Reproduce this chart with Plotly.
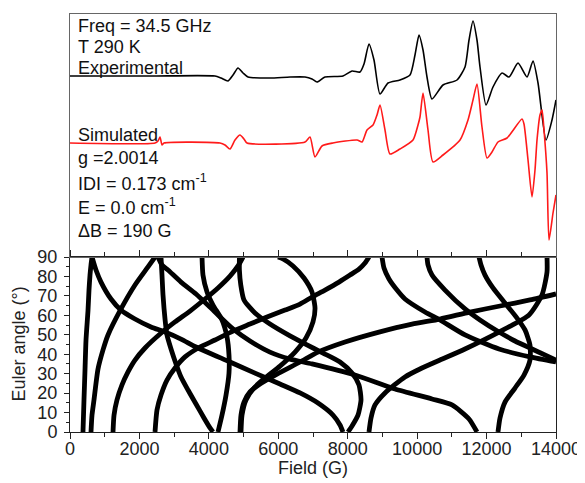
import plotly.graph_objects as go

# ---------------- Spectra (top panel) ----------------
exp_field = [0, 2305, 4177, 4350, 4552, 4696, 4840, 4984, 5128, 5761, 6338, 6770, 6971, 7115, 7346,
             7864, 8124, 8354, 8469, 8613, 8757, 8930, 9161, 9506, 9794, 9938, 10054, 10169, 10284,
             10428, 10745, 11148, 11379, 11494, 11609, 11724, 11811, 11984, 12185, 12445, 12646,
             12906, 13165, 13338, 13482, 13712, 13885, 14000]
exp_int = [181, 181, 181, 179, 176, 182, 189, 184, 180, 179, 180, 180, 178, 175, 180,
           181, 186, 185, 193, 213, 197, 163, 174, 177, 182, 202, 222, 207, 180,
           158, 172, 177, 190, 217, 236, 217, 190, 152, 170, 184, 180,
           194, 180, 196, 174, 117, 137, 157]

sim_field = [0, 2449, 2535, 2593, 2650, 2708, 4321, 4465, 4609, 4753, 4897, 5012, 5099, 6770, 6914,
             7058, 7259, 7576, 8268, 8412, 8556, 8729, 8844, 8930, 9074, 9218, 9506, 9881, 10025,
             10082, 10169, 10313, 10457, 10745, 11235, 11465, 11609, 11724, 11868, 12013, 12157,
             12329, 12589, 13021, 13078, 13194, 13309, 13395, 13453, 13539, 13597, 13654, 13741,
             13798, 13914, 14000]
sim_int = [114, 114, 116, 120, 112, 114, 114, 112, 108, 117, 122, 118, 114, 115, 120,
           100, 111, 114, 117, 115, 127, 132, 142, 152, 127, 103, 108, 117, 132,
           140, 164, 127, 95, 102, 117, 137, 157, 173, 130, 99, 105,
           115, 119, 138, 133, 97, 60, 87, 117, 142, 147, 127, 84,
           17, 44, 62]

# ---------------- Euler angle curves (bottom panel) ----------------
c1_field = [374, 403, 432, 461, 519, 547, 576, 605, 634]
c1_angle = [0, 16.5, 31.9, 47.3, 62.7, 73.0, 80.7, 85.9, 90]

c2_field = [605, 634, 691, 807, 951, 1095, 1469, 1872, 2247, 2449]
c2_angle = [0, 8.7, 16.5, 32.4, 42.2, 49.9, 63.3, 75.6, 84.9, 90]

c3_field = [1239, 1268, 1354, 1498, 1671, 1872, 2161, 2593, 3025, 3457, 3889, 4263, 4609, 4840, 4984]
c3_angle = [0, 8.7, 16.5, 24.2, 30.9, 37.0, 43.2, 50.4, 56.6, 62.2, 68.4, 74.1, 80.2, 85.4, 90]

c4_field = [634, 749, 893, 1181, 1469, 1872, 2333, 2737, 3198, 3630, 4609, 5329, 6049, 6626, 7144, 7576, 7778, 7864]
c4_angle = [90, 83.3, 77.1, 68.4, 62.7, 58.1, 54.0, 51.4, 47.8, 43.7, 36.0, 30.3, 24.7, 20.1, 14.9, 8.7, 3.6, 0]

c5_field = [2449, 2506, 2621, 2794, 3025, 3313, 3745, 4177, 4696, 5185, 5675, 6194, 6626, 6971,
            7346, 7749, 8066, 8325, 8498, 8613]
c5_angle = [0, 11.3, 19.0, 26.7, 32.9, 38.6, 43.7, 47.3, 51.9, 55.5, 59.1, 62.7, 65.8, 69.4,
            73.0, 77.1, 80.7, 83.8, 86.9, 90]

c6_field = [2535, 2650, 2823, 3198, 3630, 4177, 4696, 5185, 5761, 6338, 6971, 8210, 9362, 10428, 11004, 11494, 11724]
c6_angle = [90, 85.9, 83.3, 77.1, 71.0, 61.7, 53.0, 46.8, 41.1, 37.5, 35.0, 29.3, 22.1, 17.0, 13.9, 6.7, 0]

c7_field = [2621, 2650, 2679, 2737, 2794, 2910, 3054, 3198, 3399, 3630, 3860, 4033, 4119]
c7_angle = [90, 80.7, 70.5, 58.1, 49.9, 42.7, 35.0, 28.3, 21.6, 14.4, 7.2, 2.1, 0]

c8_field = [3803, 3831, 3947, 4119, 4379, 4523, 4580, 4580, 4494, 4379, 4263]
c8_angle = [90, 80.7, 72.0, 65.3, 57.6, 48.9, 39.6, 30.3, 19.0, 8.7, 0]

c9_field = [4897, 4926, 5012, 5185, 5473, 5963, 6626, 7144, 7922, 8901, 9852, 10659, 11523, 12387, 13251, 14000]
c9_angle = [0, 8.7, 15.4, 20.6, 24.7, 29.8, 36.0, 41.1, 46.3, 51.4, 55.5, 58.1, 61.7, 64.8, 67.9, 71.0]

c10_field = [4926, 4955, 5070, 5300, 5617, 6049, 6482, 6798, 7000, 7058, 6971, 6741, 6424, 6136, 5992]
c10_angle = [0, 8.7, 16.5, 22.6, 27.8, 33.9, 41.1, 48.3, 56.6, 63.8, 72.0, 79.2, 85.4, 89.0, 90]

c11_field = [4880, 4880, 4920, 5012, 5329, 5761, 6338, 6770, 7288, 7778, 8124, 8325, 8383, 8296, 8124, 8008]
c11_angle = [90, 83.3, 75.6, 67.9, 61.2, 55.5, 49.4, 45.3, 40.6, 36.0, 30.3, 24.2, 16.5, 8.7, 3.1, 0]

c12_field = [8613, 8671, 8786, 9074, 9650, 10082, 10659, 11379, 12358, 13222, 13597, 13741, 13741]
c12_angle = [0, 7.2, 13.9, 20.1, 28.3, 32.4, 37.0, 42.7, 51.4, 60.2, 70.5, 82.3, 90]

c13_field = [12329, 12387, 12531, 12819, 13078, 13251, 13251, 13107, 12877, 12531, 12185, 11955, 11840, 11782]
c13_angle = [0, 7.2, 15.4, 22.6, 29.3, 37.0, 44.7, 52.5, 58.6, 66.3, 74.1, 80.7, 85.9, 90]

c14_field = [8988, 9045, 9189, 9420, 9650, 10226, 10659, 11379, 12358, 13251, 14000]
c14_angle = [90, 84.3, 78.7, 73.0, 68.4, 61.7, 57.6, 49.9, 42.7, 38.6, 36.0]

c15_field = [10284, 10313, 10428, 10803, 11379, 11811, 12358, 12819, 13309, 14000]
c15_angle = [90, 85.9, 80.7, 73.0, 63.3, 57.6, 51.4, 46.8, 42.7, 37.0]

euler_curves = [
    (c1_field, c1_angle), (c2_field, c2_angle), (c3_field, c3_angle), (c4_field, c4_angle),
    (c5_field, c5_angle), (c6_field, c6_angle), (c7_field, c7_angle), (c8_field, c8_angle),
    (c9_field, c9_angle), (c10_field, c10_angle), (c11_field, c11_angle), (c12_field, c12_angle),
    (c13_field, c13_angle), (c14_field, c14_angle), (c15_field, c15_angle),
]

field_ticks = [0, 2000, 4000, 6000, 8000, 10000, 12000, 14000]
field_labels = ["0", "2000", "4000", "6000", "8000", "10000", "12000", "14000"]
angle_ticks = [0, 10, 20, 30, 40, 50, 60, 70, 80, 90]

FONT = "Liberation Sans, Arial, sans-serif"
INK = "#222"

fig = go.Figure()

for fx, ay in euler_curves:
    fig.add_trace(go.Scatter(x=fx, y=ay, mode="lines", xaxis="x", yaxis="y",
                             line=dict(color="black", width=4.8, shape="spline", smoothing=0.6),
                             showlegend=False, hoverinfo="skip"))

fig.add_trace(go.Scatter(x=exp_field, y=exp_int, mode="lines", xaxis="x2", yaxis="y2",
                         line=dict(color="black", width=1.6, shape="spline", smoothing=0.6),
                         showlegend=False))
fig.add_trace(go.Scatter(x=sim_field, y=sim_int, mode="lines", xaxis="x2", yaxis="y2",
                         line=dict(color="#ff1a1a", width=1.6, shape="spline", smoothing=0.6),
                         showlegend=False))

split = 175 / 418

# page body has an 8px margin, so the figure is sized/margined to put the plot area
# at the same window pixels as the reference
fig.update_layout(
    width=577, height=475,
    margin=dict(l=62, r=29, t=6, b=51, autoexpand=False),
    paper_bgcolor="white", plot_bgcolor="white",
    font=dict(family=FONT, size=18, color=INK),
    showlegend=False,
    xaxis=dict(domain=[0, 1], anchor="y", range=[0, 14000], tickvals=field_ticks,
               ticktext=field_labels, automargin=False,
               ticks="outside", ticklen=6, tickwidth=1, tickcolor=INK,
               minor=dict(dtick=1000, ticklen=4, ticks="outside", tickcolor=INK),
               showline=True, linecolor=INK, linewidth=1, mirror="ticks",
               showgrid=False, zeroline=False, ticklabelstandoff=-6,
               tickfont=dict(size=18, color=INK)),
    yaxis=dict(domain=[0, split], anchor="x", range=[0, 90], tickvals=angle_ticks,
               automargin=False,
               ticks="outside", ticklen=5, tickwidth=1, tickcolor=INK,
               minor=dict(dtick=5, ticklen=3, ticks="outside", tickcolor=INK),
               showline=True, linecolor=INK, linewidth=1, mirror=True,
               showgrid=False, zeroline=False, ticklabelstandoff=3,
               tickfont=dict(size=18, color=INK)),
    xaxis2=dict(domain=[0, 1], anchor="y2", range=[0, 14000], showticklabels=False,
                automargin=False,
                ticks="", showline=True, linecolor="#666", mirror=True,
                showgrid=False, zeroline=False),
    yaxis2=dict(domain=[split, 1], anchor="x2", range=[0, 243], showticklabels=False,
                automargin=False,
                ticks="", showline=True, linecolor="#666", mirror=True,
                showgrid=False, zeroline=False),
)

# axis titles
fig.add_annotation(text="Field (G)", xref="paper", yref="paper",
                   x=(313 - 70) / 486, y=-36 / 418, xanchor="center", yanchor="middle",
                   showarrow=False, font=dict(family=FONT, size=18, color=INK))
fig.add_annotation(text="Euler angle (°)", xref="paper", yref="paper",
                   x=-52 / 486, y=split / 2, xanchor="center", yanchor="middle",
                   textangle=-90, showarrow=False, font=dict(family=FONT, size=18, color=INK))

labels = [
    ("Freq = 34.5 GHz", 231), ("T 290 K", 210), ("Experimental", 189),
    ("Simulated", 122), ("g =2.0014", 99), ("IDI = 0.173 cm<sup>-1</sup>", 75),
    ("E = 0.0 cm<sup>-1</sup>", 51), ("ΔB = 190 G", 26),
]
for txt, yv in labels:
    fig.add_annotation(text=txt, xref="x2 domain", yref="y2", x=0.012, y=yv,
                       xanchor="left", yanchor="middle", showarrow=False,
                       font=dict(family=FONT, size=18, color="#111"))

fig.write_html("out.html")
